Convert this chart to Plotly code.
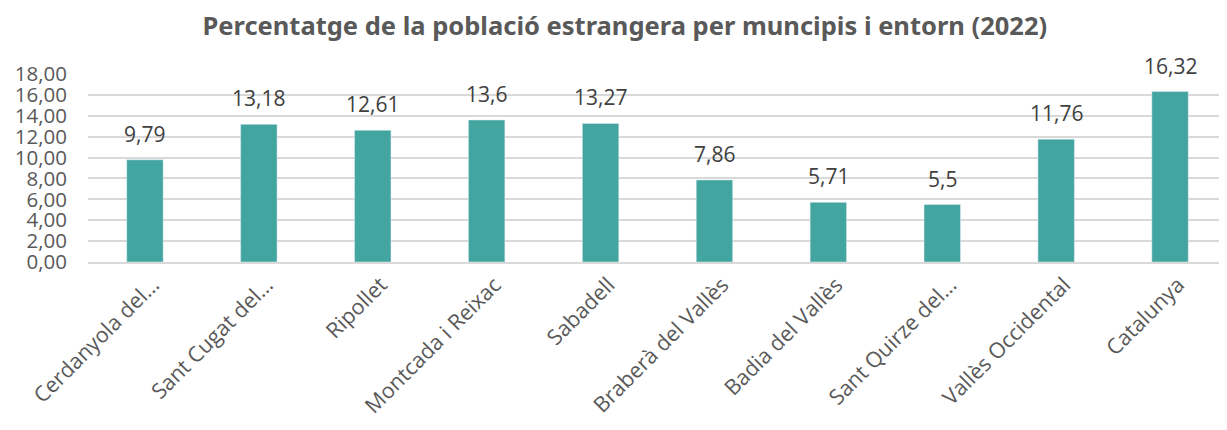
import plotly.graph_objects as go

categories = ["Cerdanyola del…", "Sant Cugat del…", "Ripollet", "Montcada i Reixac",
              "Sabadell", "Braberà del Vallès", "Badia del Vallès", "Sant Quirze del…",
              "Vallès Occidental", "Catalunya"]
values = [9.79, 13.18, 12.61, 13.6, 13.27, 7.86, 5.71, 5.5, 11.76, 16.32]
labels = [str(v).replace(".", ",") for v in values]

fig = go.Figure(go.Bar(
    x=categories, y=values,
    marker=dict(color="#43A5A0"), width=0.32,
))
for c, v, t in zip(categories, values, labels):
    fig.add_annotation(x=c, y=v, text=t, showarrow=False, yanchor="bottom",
                       yshift=10, font=dict(size=21, color="#404040",
                                            family="Open Sans, sans-serif"))
# page has an 8px body margin, so the figure is sized/offset to compensate
fig.update_layout(
    width=1219, height=422,
    margin=dict(l=80, r=0, t=66, b=168, autoexpand=False),
    paper_bgcolor="white", plot_bgcolor="white",
    separators=",.",
    font=dict(family="Open Sans, sans-serif", color="#595959", size=20),
    title=dict(text="<b>Percentatge de la població estrangera per muncipis i entorn (2022)</b>",
               x=0.506, xanchor="center", y=0.978, yanchor="top",
               font=dict(family="Noto Sans, sans-serif", size=25.5, color="#595959")),
    showlegend=False,
)
fig.update_yaxes(range=[0, 18], dtick=2, tickformat=".2f", gridcolor="#D9D9D9",
                 gridwidth=1.5, zeroline=False, ticks="", automargin=False,
                 ticklabelstandoff=20,
                 tickfont=dict(size=20.5, color="#595959"))
fig.update_xaxes(tickangle=-45, showline=True, linecolor="#D9D9D9", linewidth=1.5,
                 automargin=False, ticklabelshift=8,
                 tickfont=dict(size=21.5, color="#595959"))
fig.write_html("out.html")
